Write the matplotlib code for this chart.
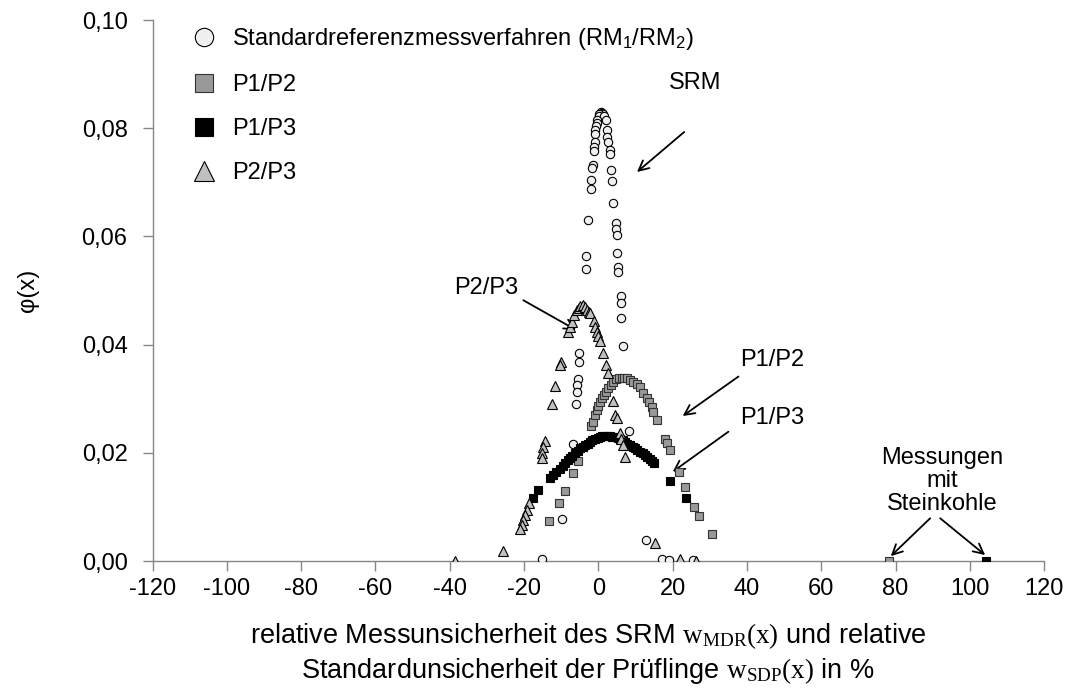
import numpy as np
import matplotlib
matplotlib.use("Agg")
import matplotlib.pyplot as plt
from matplotlib.ticker import FuncFormatter

plt.rcParams['font.family'] = ['Liberation Sans', 'DejaVu Sans']
plt.rcParams['font.size'] = 17
plt.rcParams['mathtext.fontset'] = 'custom'
plt.rcParams['mathtext.rm'] = 'Liberation Serif'
plt.rcParams['mathtext.it'] = 'Liberation Serif:italic'
plt.rcParams['mathtext.bf'] = 'Liberation Serif:bold'
plt.rcParams['mathtext.sf'] = 'Liberation Sans'

# Standardreferenzmessverfahren (circles)
srm_x = [0.6, 0.9, 1.2, 0.3, 0.1, 1.5, -0.3, -0.3, -0.6, -0.8, -0.8, -1.0, -1.2, -1.3,
         -1.5, -1.7, -2.0, -2.0, -2.7, -3.4, -3.4,
         2.1, 2.4, 2.4, 2.7, 3.0, 3.1, 3.3, 3.6, 4.0, 4.7, 4.8, 5.0, 5.1, 5.4, 5.4,
         6.0, 6.0, 6.0, 6.7,
         -5.1, -5.2, -5.6, -5.8, -5.8, -6.0, -6.9, -9.7, -15.2,
         8.3, 12.8, 17.1, 19.1, 25.6]
srm_y = [0.0830, 0.0829, 0.0826, 0.0827, 0.0822, 0.0822, 0.0816, 0.0810, 0.0804, 0.0796,
         0.0790, 0.0775, 0.0766, 0.0757, 0.0732, 0.0726, 0.0704, 0.0687, 0.0631, 0.0564,
         0.0539,
         0.0815, 0.0796, 0.0783, 0.0775, 0.0760, 0.0753, 0.0723, 0.0702, 0.0661, 0.0624,
         0.0613, 0.0602, 0.0570, 0.0544, 0.0535,
         0.0490, 0.0477, 0.0450, 0.0397,
         0.0385, 0.0367, 0.0337, 0.0326, 0.0312, 0.0290, 0.0216, 0.0078, 0.0003,
         0.0241, 0.0038, 0.0003, 0.0002, 0.0001]

# P1/P2 (grey squares)
p12_x = [-2.1, -1.5, -0.9, -0.4, 0.0, 0.5, 0.9, 1.5, 2.1, 2.7, 3.3, 4.0, 4.8, 5.5, 6.3,
         6.9, 7.6, 8.5, 9.4, 10.3, 11.2, 12.1, 13.0, 13.7, 14.4, 14.8, 15.9, 18.0, 18.6,
         19.3, 21.8, 23.3, 25.8, 27.1, 30.6,
         -5.6, -6.7, -9.0, -10.5, -13.3, 78.1]
p12_y = [0.0249, 0.0257, 0.0270, 0.0279, 0.0286, 0.0294, 0.0301, 0.0307, 0.0313, 0.0319,
         0.0325, 0.0331, 0.0336, 0.0338, 0.0339, 0.0339, 0.0338, 0.0334, 0.0331, 0.0327,
         0.0321, 0.0310, 0.0301, 0.0294, 0.0285, 0.0276, 0.0261, 0.0225, 0.0218, 0.0205,
         0.0165, 0.0136, 0.0099, 0.0084, 0.0050,
         0.0184, 0.0163, 0.0130, 0.0108, 0.0074, 0.0]

# P1/P3 (black squares)
p13_x = [-17.5, -16.2, -13.0, -12.1, -11.5, -10.3, -9.6, -9.0, -8.3, -7.6, -7.0, -6.3,
         -5.6, -4.9, -4.2, -3.6, -2.9, -2.2, -1.6, -0.9, -0.2, 0.5, 1.1, 1.8, 2.5, 3.1,
         3.8, 4.5, 5.2, 5.8, 6.5, 7.2, 7.8, 8.5, 9.2, 9.9, 10.5, 11.2, 11.9, 12.6, 13.2,
         13.9, 14.5, 15.0, 19.3, 23.6, 104.3]
p13_y = [0.0116, 0.0131, 0.0153, 0.0159, 0.0165, 0.0171, 0.0176, 0.0182, 0.0186, 0.0190,
         0.0195, 0.0199, 0.0204, 0.0208, 0.0211, 0.0214, 0.0217, 0.0220, 0.0223, 0.0225,
         0.0228, 0.0230, 0.0231, 0.0231, 0.0231, 0.0231, 0.0230, 0.0229, 0.0227, 0.0225,
         0.0223, 0.0220, 0.0217, 0.0214, 0.0211, 0.0208, 0.0205, 0.0202, 0.0199, 0.0196,
         0.0192, 0.0188, 0.0184, 0.0181, 0.0148, 0.0116, 0.0]

# P2/P3 (triangles)
p23_x = [-8.1, -7.6, -7.2, -6.5, -5.8, -5.3, -4.9, -4.2, -3.6, -3.0, -2.6, -2.2, -1.3,
         -0.9, -0.4, 0.0, 0.5, 1.3, 2.1, 2.5, 4.0, 4.6, 4.9, 5.8, 6.0, 6.6, 7.3,
         -10.1, -10.3, -11.7, -12.5, -14.3, -14.8, -15.2, -15.2,
         -18.6, -19.3, -19.7, -20.2, -20.6, -21.1, -25.6, -38.6,
         15.3, 22.0, 26.3]
p23_y = [0.0424, 0.0433, 0.0442, 0.0455, 0.0464, 0.0468, 0.0471, 0.0473, 0.0470, 0.0464,
         0.0461, 0.0458, 0.0444, 0.0432, 0.0424, 0.0416, 0.0407, 0.0385, 0.0362, 0.0347,
         0.0296, 0.0270, 0.0264, 0.0237, 0.0225, 0.0214, 0.0192,
         0.0368, 0.0362, 0.0323, 0.0290, 0.0222, 0.0210, 0.0199, 0.0190,
         0.0108, 0.0094, 0.0085, 0.0076, 0.0067, 0.0059, 0.0019, 0.0,
         0.0034, 0.0003, 0.0]

x_ticks = list(range(-120, 121, 20))
y_ticks = [0.0, 0.02, 0.04, 0.06, 0.08, 0.10]

fig = plt.figure(figsize=(10.71, 6.97), dpi=100)
ax = fig.add_axes([0.1424, 0.1951, 0.8326, 0.7762])

ms = 6
ax.plot(srm_x, srm_y, 'o', ms=ms, mfc='#f0f0f0', mec='black', mew=0.8, ls='none',
        label='Standardreferenzmessverfahren (RM$_\\mathsf{1}$/RM$_\\mathsf{2}$)', zorder=3)
ax.plot(p12_x, p12_y, 's', ms=ms, mfc='#999999', mec='#333333', mew=0.8, ls='none',
        label='P1/P2', zorder=4)
ax.plot(p13_x, p13_y, 's', ms=ms, mfc='black', mec='black', mew=0.8, ls='none',
        label='P1/P3', zorder=5)
ax.plot(p23_x, p23_y, '^', ms=ms + 0.5, mfc='#c0c0c0', mec='black', mew=0.8, ls='none',
        label='P2/P3', zorder=6)

ax.set_xlim(-120, 120)
ax.set_ylim(0, 0.10)
ax.set_xticks(x_ticks)
ax.set_yticks(y_ticks)
ax.xaxis.set_major_formatter(FuncFormatter(lambda v, p: f"{int(round(v))}"))
ax.yaxis.set_major_formatter(FuncFormatter(lambda v, p: f"{v:.2f}".replace('.', ',')))

for side in ['top', 'right']:
    ax.spines[side].set_visible(False)
for side in ['left', 'bottom']:
    ax.spines[side].set_color('#868686')
    ax.spines[side].set_linewidth(1)
ax.tick_params(axis='both', direction='out', length=7, width=1, color='#868686',
               labelcolor='black')
ax.tick_params(axis='y', pad=11)
ax.tick_params(axis='x', pad=5)

leg = ax.legend(loc='upper left', bbox_to_anchor=(192 / 1071, 1 - 26 / 697),
                bbox_transform=fig.transFigure, frameon=False, borderpad=0,
                borderaxespad=0, handlelength=1.0, handletextpad=0.7,
                labelspacing=0.93, markerscale=2.2, fontsize=17)

arrow = dict(arrowstyle='->', color='black', lw=1.3, shrinkA=0, shrinkB=0,
             mutation_scale=18)

# annotations
ax.text(26, 0.0883, 'SRM', ha='center', va='center')
ax.annotate('', xy=(10.4, 0.0719), xytext=(23.1, 0.0793), arrowprops=arrow)

ax.text(-30.3, 0.0505, 'P2/P3', ha='center', va='center')
ax.annotate('', xy=(-6.0, 0.0427), xytext=(-20.2, 0.0482), arrowprops=arrow)

ax.text(38.1, 0.0371, 'P1/P2', ha='left', va='center')
ax.annotate('', xy=(22.7, 0.0268), xytext=(37.7, 0.0341), arrowprops=arrow)

ax.text(38.1, 0.0264, 'P1/P3', ha='left', va='center')
ax.annotate('', xy=(20.0, 0.0165), xytext=(35.0, 0.0239), arrowprops=arrow)

ax.text(92.5, 0.0148, 'Messungen\nmit\nSteinkohle', ha='center', va='center',
        linespacing=1.05)
ax.annotate('', xy=(78.7, 0.0009), xytext=(89.3, 0.0079), arrowprops=arrow)
ax.annotate('', xy=(104.1, 0.0011), xytext=(92.0, 0.0079), arrowprops=arrow)

fig.text(28 / 1071, 1 - 290 / 697, 'φ(x)', rotation=90, ha='center', va='center',
         fontsize=17)
fig.text(588 / 1071, 1 - 636 / 697,
         'relative Messunsicherheit des SRM $\\mathrm{w_{MDR}(x)}$ und relative',
         ha='center', va='center', fontsize=19.5)
fig.text(588 / 1071, 1 - 671 / 697,
         'Standardunsicherheit der Prüflinge $\\mathrm{w_{SDP}(x)}$ in %',
         ha='center', va='center', fontsize=19.5)

fig.savefig('out.png', dpi=100)
